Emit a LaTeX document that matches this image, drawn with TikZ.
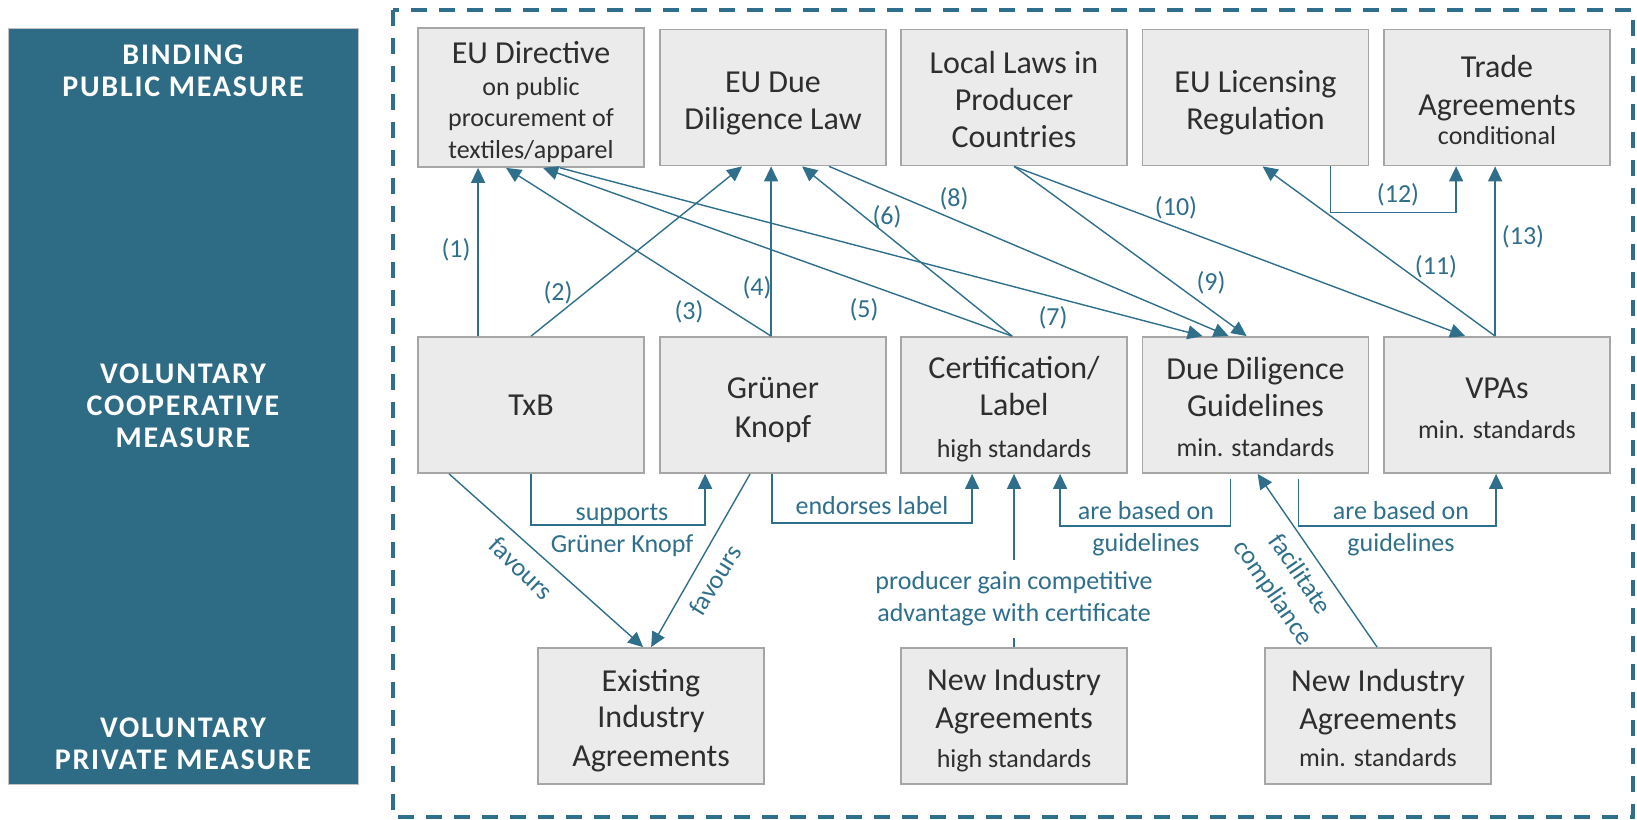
\documentclass[tikz,border=0pt]{standalone}
\usepackage{fontspec}
\setmainfont{Carlito}
\newfontfamily\panelfont[LetterSpace=6]{Carlito}
\usetikzlibrary{arrows.meta}
\definecolor{panelC}{HTML}{2E6B84}
\definecolor{lineC}{HTML}{2F6F8B}
\definecolor{boxfill}{HTML}{EBEBEB}
\definecolor{boxdraw}{HTML}{A6A6A6}
\definecolor{txtC}{HTML}{2E2E2E}
\newcommand{\mainf}{\fontsize{32}{37}\selectfont}
\newcommand{\subf}{\fontsize{26}{30}\selectfont}
\newcommand{\lblf}{\fontsize{26}{32}\selectfont}
\newcommand{\panf}{\panelfont\bfseries\fontsize{30}{32}\selectfont}
\newcommand{\tstrut}{\rule{0pt}{35pt}}
\newcommand{\bstrut}{\rule[-9pt]{0pt}{9pt}}
\begin{document}
\begin{tikzpicture}[x=1pt,y=-1pt,
  box/.style={draw=boxdraw, line width=1.8pt, fill=boxfill, minimum width=226pt, minimum height=136pt, inner sep=0pt, align=center, text=txtC, font=\mainf},
  arr/.style={draw=lineC, line width=1.4pt, -{Triangle[length=15pt,width=14pt]}},
  ln/.style={draw=lineC, line width=1.4pt},
  lbl/.style={text=lineC, font=\lblf, align=center, inner sep=0pt},
  pantxt/.style={text=white, font=\panf, align=center, inner sep=0pt},
]
\useasboundingbox (0,0) rectangle (1637,819);
% left panel
\node[fill=panelC, draw=boxdraw!70, line width=1.2pt, minimum width=350pt, minimum height=756pt, anchor=north west, inner sep=0pt] (panel) at (8,28) {};
\node[pantxt] (p1) at (183,71) {BINDING\\PUBLIC MEASURE};
\node[pantxt] (p2) at (183,406) {VOLUNTARY\\COOPERATIVE\\MEASURE};
\node[pantxt] (p3) at (183,744) {VOLUNTARY\\PRIVATE MEASURE};
% frame
\draw[lineC, line width=3.5pt, dash pattern=on 16pt off 12pt] (393,10) rectangle (1633,817);
% top row
\node[box] (eud) at (531,97.5) {\tstrut EU Directive\\[-5pt]{\subf on public}\\[-6pt]{\subf procurement of}\\[-5pt]{\subf textiles/apparel\bstrut}};
\node[box] (eudd) at (773,97.5) {\tstrut EU Due\\Diligence Law\bstrut};
\node[box] (local) at (1014,97.5) {\tstrut Local Laws in\\Producer\\Countries\bstrut};
\node[box] (eulic) at (1255.5,97.5) {\tstrut EU Licensing\\Regulation\bstrut};
\node[box] (trade) at (1497,97.5) {\tstrut Trade\\[1pt]Agreements\\[-8pt]{\subf conditional\bstrut}};
% middle row
\node[box] (txb) at (531,405) {TxB};
\node[box] (gk) at (773,405) {\tstrut Grüner\\[2pt]Knopf\bstrut};
\node[box] (cert) at (1014,405) {\tstrut Certification/\\Label\\[5pt]{\subf high standards\bstrut}};
\node[box] (ddg) at (1255.5,405) {\tstrut Due Diligence\\Guidelines\\[3pt]{\subf min. standards\bstrut}};
\node[box] (vpa) at (1497,405) {\tstrut VPAs\\[3pt]{\subf min. standards\bstrut}};
% bottom row
\node[box] (ei) at (651,716) {\tstrut Existing\\[-1pt]Industry\\[2pt]Agreements\bstrut};
\node[box] (nih) at (1014,716) {\tstrut New Industry\\[1pt]Agreements\\[2pt]{\subf high standards\bstrut}};
\node[box] (nim) at (1378,716) {\tstrut New Industry\\[1pt]Agreements\\[0pt]{\subf min. standards\bstrut}};
% numbered arrows
\draw[arr] ([xshift=61pt]txb.north west) -- ([xshift=61pt]eud.south west);
\draw[arr] ([xshift=114pt]txb.north west) -- ([xshift=83pt]eudd.south west);
\draw[arr] ([xshift=112pt]gk.north west) -- ([xshift=89pt]eud.south west);
\draw[arr] ([xshift=112pt]gk.north west) -- ([xshift=112pt]eudd.south west);
\draw[arr] ([xshift=112pt]cert.north west) -- ([xshift=126pt]eud.south west);
\draw[arr] ([xshift=112pt]cert.north west) -- ([xshift=143pt]eudd.south west);
\draw[arr] ([xshift=143pt]eud.south west) -- ([xshift=61pt]ddg.north west);
\draw[arr] ([xshift=170pt]eudd.south west) -- ([xshift=87pt]ddg.north west);
\draw[arr] ([xshift=114pt]local.south west) -- ([xshift=105pt]ddg.north west);
\draw[arr] ([xshift=114pt]local.south west) -- ([xshift=82pt]vpa.north west);
\draw[arr] ([xshift=112pt]vpa.north west) -- ([xshift=121pt]eulic.south west);
\draw[arr] ([xshift=189pt]eulic.south west) -- ++(0,46) -| ([xshift=73pt]trade.south west);
\draw[arr] ([xshift=112pt]vpa.north west) -- ([xshift=112pt]trade.south west);
\node[lbl] (l1) at (456,250) {(1)};
\node[lbl] (l2) at (558,293) {(2)};
\node[lbl] (l3) at (689,312) {(3)};
\node[lbl] (l4) at (757,288) {(4)};
\node[lbl] (l5) at (864,310) {(5)};
\node[lbl] (l6) at (887,217) {(6)};
\node[lbl] (l7) at (1053,318) {(7)};
\node[lbl] (l8) at (954,199) {(8)};
\node[lbl] (l9) at (1211,283) {(9)};
\node[lbl] (l10) at (1176,208) {(10)};
\node[lbl] (l11) at (1436,267) {(11)};
\node[lbl] (l12) at (1398,195) {(12)};
\node[lbl] (l13) at (1523,237) {(13)};
% lower connectors
\draw[arr] ([xshift=114pt]txb.south west) -- ++(0,51) -| ([xshift=46pt]gk.south west);
\node[lbl] (lsup) at (622,530) {supports\\Grüner Knopf};
\draw[arr] ([xshift=113pt]gk.south west) -- ++(0,49) -| ([xshift=72pt]cert.south west);
\node[lbl] (lend) at (872,506) {endorses label};
\draw[arr] ([xshift=89pt,yshift=-5pt]ddg.south west) -- ++(0,47) -| ([xshift=160pt]cert.south west);
\node[lbl] (lbase1) at (1146,529) {are based on\\guidelines};
\draw[arr] ([xshift=157pt,yshift=-5pt]ddg.south west) -- ++(0,47) -| ([xshift=113pt]vpa.south west);
\node[lbl] (lbase2) at (1401,529) {are based on\\guidelines};
\node[lbl, inner ysep=12pt] (prod) at (1014,599) {producer gain competitive\\advantage with certificate};
\draw[ln] (nih.north) -- (nih.north |- prod.south);
\draw[arr] (nih.north |- prod.north) -- (cert.south);
\draw[arr] ([xshift=113pt]nim.north west) -- ([xshift=116pt]ddg.south west);
\node[lbl, rotate=-55.6] (lfac) at (1286,584) {facilitate\\compliance};
\draw[arr] ([xshift=32pt]txb.south west) -- ([xshift=106pt]ei.north west);
\node[lbl, rotate=-44] (lfav1) at (521,568) {favours};
\draw[arr] ([xshift=91pt]gk.south west) -- ([xshift=114pt]ei.north west);
\node[lbl, rotate=58] (lfav2) at (715,580) {favours};
\end{tikzpicture}
\end{document}
